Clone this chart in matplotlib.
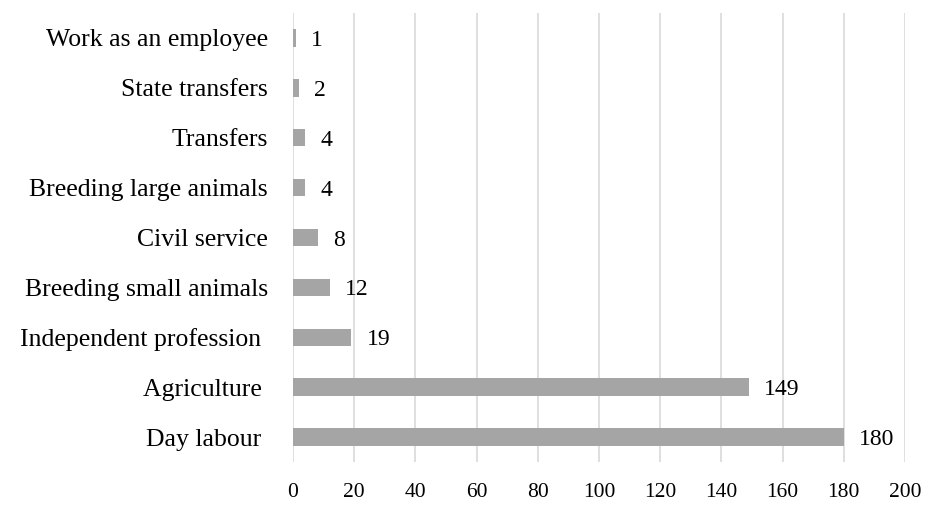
import matplotlib

matplotlib.use("Agg")
import matplotlib.pyplot as plt

categories = [
    "Day labour ",
    "Agriculture ",
    "Independent profession ",
    "Breeding small animals",
    "Civil service",
    "Breeding large animals",
    "Transfers",
    "State transfers",
    "Work as an employee",
]
counts = [180, 149, 19, 12, 8, 4, 4, 2, 1]
x_ticks = list(range(0, 201, 20))

plt.rc("font", family="Liberation Serif", size=14)

fig = plt.figure(figsize=(9.25, 5.09), dpi=100)
ax = fig.add_axes([0.3168, 0.0923, 0.6615, 0.8821])

ypos = list(range(len(categories)))
ax.barh(ypos, counts, height=0.35, color="#A5A5A5", zorder=3)

for y, v in zip(ypos, counts):
    ax.annotate(str(v), (v, y), xytext=(11, 0), textcoords="offset points",
                ha="left", va="center_baseline", fontsize=17)

ax.set_yticks(ypos)
ax.set_yticklabels(categories, fontsize=18.5)
ax.set_ylim(-0.5, len(categories) - 0.5)
ax.set_xlim(0, 200)
ax.set_xticks(x_ticks)
ax.grid(axis="x", color="#D9D9D9", linewidth=1.2, zorder=0)
ax.tick_params(length=0)
ax.tick_params(axis="x", pad=15, labelsize=15.5)
ax.tick_params(axis="y", pad=18)
for s in ax.spines.values():
    s.set_visible(False)

fig.savefig("out.png", dpi=100)
